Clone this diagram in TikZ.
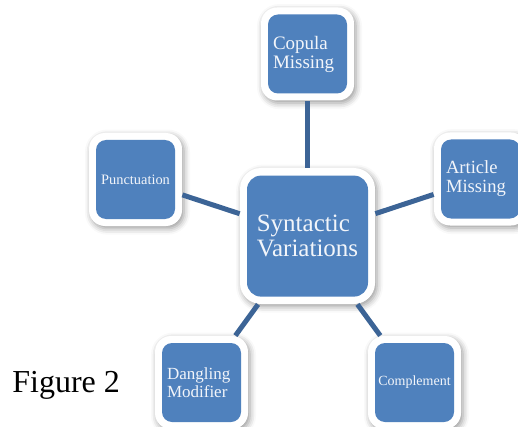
\documentclass[tikz,border=0pt]{standalone}
\usepackage{fontspec}
\setmainfont{Liberation Serif}
\usetikzlibrary{shadows.blur}
\definecolor{boite}{RGB}{79,129,189}
\definecolor{trait}{RGB}{60,100,150}
\definecolor{texte}{RGB}{242,245,250}

\begin{document}
\begin{tikzpicture}[x=0.5pt,y=-0.5pt]
 % styles des boites
  \tikzstyle{cadre}=[rectangle,fill=white,text=texte,inner sep=0pt,
    blur shadow={shadow xshift=1pt,shadow yshift=-1.3pt,shadow blur radius=3pt,shadow opacity=40}]
  \tikzstyle{grande}=[cadre,minimum width=67.5pt,minimum height=68pt,rounded corners=10.5pt,align=left,
    font=\fontsize{12.5}{12.5}\selectfont,
    path picture={\fill[boite,rounded corners=7pt] ([shift={(3.5pt,3.7pt)}]path picture bounding box.south west)
      rectangle ([shift={(-3.5pt,-3.8pt)}]path picture bounding box.north east);}]
  \tikzstyle{petite}=[cadre,minimum size=46.5pt,rounded corners=8pt,text width=34.5pt,align=left,
    path picture={\fill[boite,rounded corners=5pt] ([shift={(3.5pt,3.5pt)}]path picture bounding box.south west)
      rectangle ([shift={(-3.5pt,-3.5pt)}]path picture bounding box.north east);}]
  \tikzstyle{lien}=[draw=trait,line width=2.5pt]
  \useasboundingbox (0,0) rectangle (518,427);
 % les boites
  \node[grande] (S) at (307.5,236) {Syntactic\\Variations};
  \node[petite,font=\fontsize{9.5}{9.5}\selectfont] (C) at (307.5,54) {Copula\\Missing};
  \node[petite,text width=40pt,align=center,font=\fontsize{7.2}{8}\selectfont] (P) at (135.5,179.5) {Punctuation};
  \node[petite,font=\fontsize{9.3}{9.5}\selectfont] (A) at (480.5,179) {Article\\Missing};
  \node[petite,font=\fontsize{8.5}{9}\selectfont] (D) at (201.5,382.5) {Dangling\\Modifier};
  \node[petite,text width=40pt,align=center,font=\fontsize{7}{8}\selectfont] (M) at (414.5,382.5) {Complement};
 % les traits
  \draw[lien] (S)--(C);
  \draw[lien] (S)--(P);
  \draw[lien] (S)--(A);
  \draw[lien] (S)--(D);
  \draw[lien] (S)--(M);
 % le titre
  \node[anchor=base west,inner sep=0pt,font=\fontsize{16}{20}\selectfont] (F) at (12,392) {Figure 2};
\end{tikzpicture}
\end{document}
